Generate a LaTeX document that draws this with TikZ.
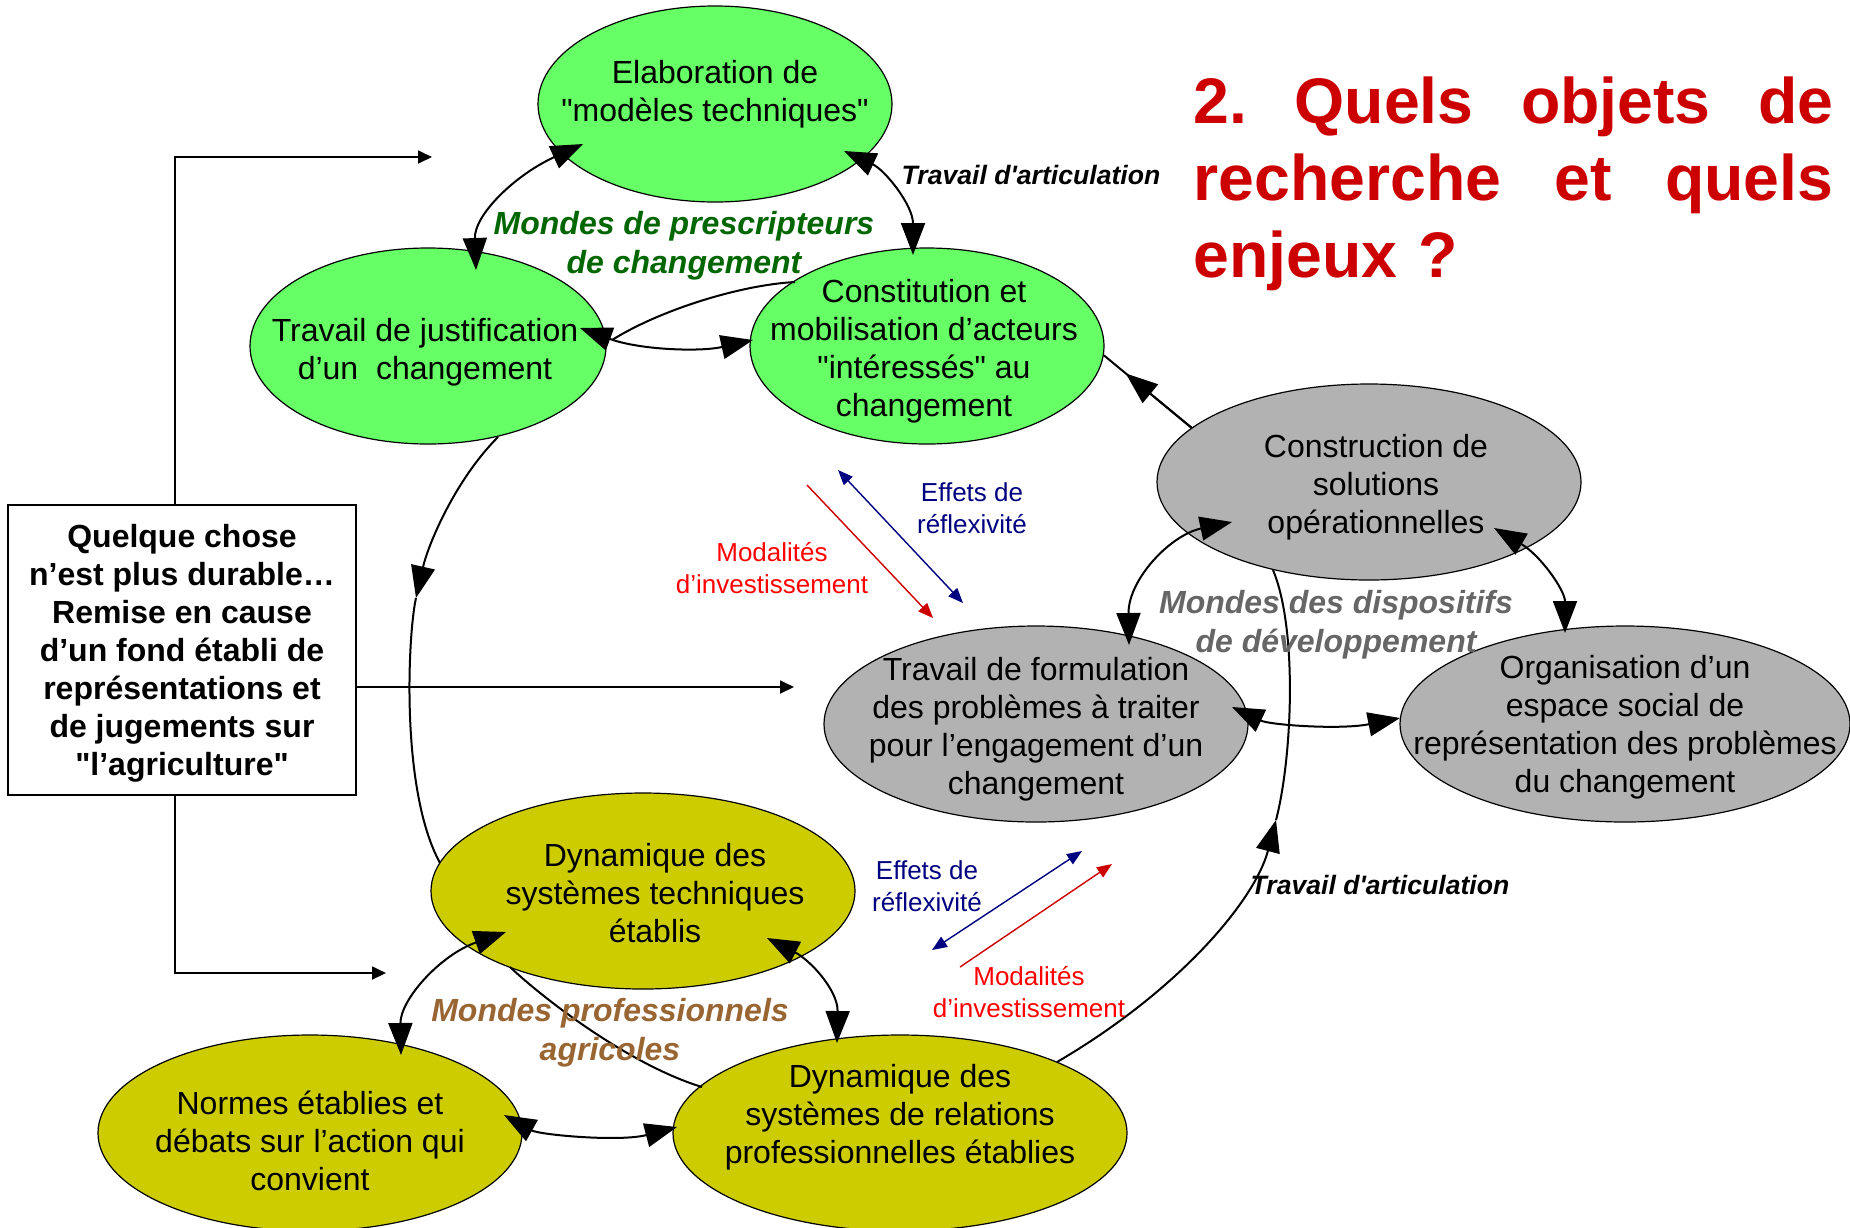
\documentclass[tikz,border=0pt]{standalone}
\usepackage{fontspec}
\setmainfont{Liberation Sans}
\usetikzlibrary{
	arrows.meta,
	calc,
	shapes.geometric
}
\definecolor{VertClair}{RGB}{102,255,102}
\definecolor{GrisMoyen}{RGB}{178,178,178}
\definecolor{OliveJaune}{RGB}{204,204,0}
\definecolor{VertFonce}{RGB}{0,102,0}
\definecolor{GrisFonce}{RGB}{102,102,102}
\definecolor{Brun}{RGB}{153,102,51}
\definecolor{RougeTitre}{RGB}{204,0,0}
\definecolor{RougeFleche}{RGB}{204,0,0}
\definecolor{Rouge}{RGB}{255,0,0}
\definecolor{Marine}{RGB}{0,0,128}

\begin{document}
\begin{tikzpicture}[x=0.5pt, y=-0.5pt,
	monde/.style={ellipse, draw, line width=0.6pt, inner sep=0pt, minimum height=98pt},
	vert/.style={monde, fill=VertClair, minimum width=177pt},
	gris/.style={monde, fill=GrisMoyen, minimum width=212pt},
	jaune/.style={monde, fill=OliveJaune, minimum width=212pt},
	txt/.style={align=center, yshift=-2.4pt, font=\fontsize{16}{19}\selectfont},
	titremonde/.style={align=center, yshift=-1.8pt, font=\fontsize{16}{19.5}\selectfont\bfseries\itshape},
	petit/.style={align=center, font=\fontsize{13}{16}\selectfont},
	articul/.style={font=\fontsize{13.3}{16}\selectfont\bfseries\itshape},
	lien/.style={line width=1pt},
	pointe/.style={-{Triangle[length=16pt,width=12pt]}},
	allerretour/.style={{Triangle[length=16pt,width=12pt]}-{Triangle[length=16pt,width=12pt]}},
	flechebox/.style={line width=0.9pt, -{Triangle[length=7pt,width=6.5pt]}},
	reflex/.style={Marine, line width=0.7pt, {Triangle[length=7.5pt,width=6pt]}-{Triangle[length=7.5pt,width=6pt]}},
	invest/.style={RougeFleche, line width=0.7pt, -{Triangle[length=7.5pt,width=6pt]}}
	]
	\useasboundingbox (0,0) rectangle (1850,1227);
	
	% Mondes de prescripteurs
	\node[vert, label={[txt,yshift=7.1pt]center:{Elaboration de\\\textquotedbl modèles techniques\textquotedbl}}] (elab) at (715,104) {};
	\node[vert, minimum width=178pt, label={[txt,yshift=-0.8pt,xshift=-1.5pt]center:{Travail de justification\\d’un\ \ changement}}] (justif) at (428,346) {};
	\node[vert, label={[txt,xshift=-1.5pt]center:{Constitution et\\mobilisation d’acteurs\\\textquotedbl intéressés\textquotedbl{} au\\changement}}] (constit) at (927,346) {};
	
	% Mondes des dispositifs
	\node[gris, label={[txt,xshift=3.5pt]center:{Construction de\\solutions\\opérationnelles}}] (constr) at (1369,482) {};
	\node[gris, label={[txt]center:{Travail de formulation\\des problèmes à traiter\\pour l’engagement d’un\\changement}}] (formul) at (1036,724) {};
	\node[gris, minimum width=225pt, label={[txt,yshift=0.6pt]center:{Organisation d’un\\espace social de\\représentation des problèmes\\du changement}}] (organ) at (1625,724) {};
	
	% Mondes professionnels
	\node[jaune, label={[txt,yshift=1.4pt,xshift=6pt]center:{Dynamique des\\systèmes techniques\\établis}}] (dst) at (643,891) {};
	\node[jaune, label={[txt,yshift=-1.6pt]center:{Normes établies et\\débats sur l’action qui\\convient}}] (normes) at (310,1133) {};
	\node[jaune, minimum width=227pt, label={[txt,yshift=10.2pt]center:{Dynamique des\\systèmes de relations\\professionnelles établies}}] (dsr) at (900,1133) {};
	
	% liens internes
	\draw[lien, allerretour] ($(elab)+(-132,40)$) .. controls +(-68,31) and +(-2,-55) .. ($(justif)+(48,-76)$);
	\draw[lien, allerretour] ($(elab)+(129,47)$) .. controls +(41,19) and +(0,-50) .. ($(constit)+(-14,-91)$);
	\draw[lien, allerretour] ($(justif)+(152,-18)$) .. controls +(60,22) and +(-53,12) .. ($(constit)+(-174,-6)$);
	\draw[lien] ($(constit)+(-132,-64)$) .. controls +(-55,3) and +(48,-30) .. ($(justif)+(184,-6)$);
	\draw[lien, allerretour] ($(constr)+(-137,40)$) .. controls +(-62,13) and +(-1,-65) .. ($(formul)+(93,-79)$);
	\draw[lien, allerretour] ($(constr)+(125,46)$) .. controls +(46,27) and +(0,-43) .. ($(organ)+(-60,-91)$);
	\draw[lien, allerretour] ($(formul)+(196,-17)$) .. controls +(38,18) and +(-60,12) .. ($(organ)+(-225,-6)$);
	\draw[lien, allerretour] ($(dst)+(-137,41)$) .. controls +(-66,23) and +(-1,-55) .. ($(normes)+(91,-78)$);
	\draw[lien, allerretour] ($(dst)+(124,47)$) .. controls +(43,22) and +(1,-53) .. ($(dsr)+(-63,-90)$);
	\draw[lien, allerretour] ($(normes)+(194,-18)$) .. controls +(36,20) and +(-57,15) .. ($(dsr)+(-223,-6)$);
	\draw[lien] ($(dst)+(-133,76)$) .. controls +(35,33) and +(-72,-22) .. ($(dsr)+(-198,-46)$);
	
	% liens entre mondes
	\coordinate (descente) at (416,598);
	\draw[lien, pointe] ($(justif)+(70,91)$) .. controls +(-43,43) and +(12,-53) .. (descente);
	\draw[lien] (descente) .. controls +(-8,35) and +(-40,-73) .. ($(dst)+(-203,-28)$);
	\draw[lien] (constr.163) -- (constit.-3);
	\draw[lien, pointe] (constr.163) -- ($(constr.163)!0.75!(constit.-3)$);
	\coordinate (articulation) at (1276,820);
	\draw[lien, pointe] ($(dsr)+(157,-71)$) .. controls +(123,-72) and +(-21,80) .. (articulation);
	\draw[lien] (articulation) .. controls +(16,-61) and +(25,60) .. ($(constr)+(-96,88)$);
	
	% encadre de gauche
	\node[draw, line width=1.2pt, minimum width=174pt, minimum height=145pt, label={[align=center, yshift=-1.8pt, font=\fontsize{16}{19}\selectfont\bfseries]center:{Quelque chose\\n’est plus durable…\\Remise en cause\\d’un fond établi de\\représentations et\\de jugements sur\\\textquotedbl l’agriculture\textquotedbl}}] (quelque) at (182,650) {};
	\coordinate (haut) at (432,157);
	\coordinate (bas) at (386,973);
	\coordinate (centre) at (794,687);
	\draw[flechebox] ($(quelque.north)+(-7,0)$) |- (haut);
	\draw[flechebox] ($(quelque.south)+(-7,0)$) |- (bas);
	\draw[flechebox] ($(quelque.east)+(0,37)$) -- (centre);
	
	% effets de reflexivite et modalites
	\coordinate (r1a) at (838,470);
	\coordinate (r1b) at (963,603);
	\coordinate (i1a) at (807,485);
	\coordinate (i1b) at (933,618);
	\coordinate (r2a) at (932,950);
	\coordinate (r2b) at (1082,851);
	\coordinate (i2a) at (960,967);
	\coordinate (i2b) at (1112,864);
	\draw[reflex] (r1a) -- (r1b);
	\draw[invest] (i1a) -- (i1b);
	\draw[reflex] (r2a) -- (r2b);
	\draw[invest] (i2a) -- (i2b);
	\node[petit, Marine] (reflex1) at (972,508) {Effets de\\réflexivité};
	\node[petit, Rouge] (invest1) at (772,568) {Modalités\\d’investissement};
	\node[petit, Marine] (reflex2) at (927,886) {Effets de\\réflexivité};
	\node[petit, Rouge] (invest2) at (1029,992) {Modalités\\d’investissement};
	
	% titres
	\node[articul] (artic1) at (1031,175) {Travail d\textquotesingle articulation};
	\node[articul] (artic2) at (1380,885) {Travail d\textquotesingle articulation};
	\node[titremonde, VertFonce] (mprescr) at (684,242) {Mondes de prescripteurs\\de changement};
	\node[titremonde, GrisFonce] (mdispo) at (1336,621) {Mondes des dispositifs\\de développement};
	\node[titremonde, Brun] (mpro) at (610,1029) {Mondes professionnels\\agricoles};
	\node[anchor=north west, inner sep=0pt, text width=320pt, align=left, text=RougeTitre, font=\fontsize{32.2}{38.5}\selectfont\bfseries] (titre) at (1193,76) {\makebox[320pt][s]{2.\hfill Quels\hfill objets\hfill de}\\\makebox[320pt][s]{recherche\hfill et\hfill quels}\\enjeux ?};
\end{tikzpicture}
\end{document}
